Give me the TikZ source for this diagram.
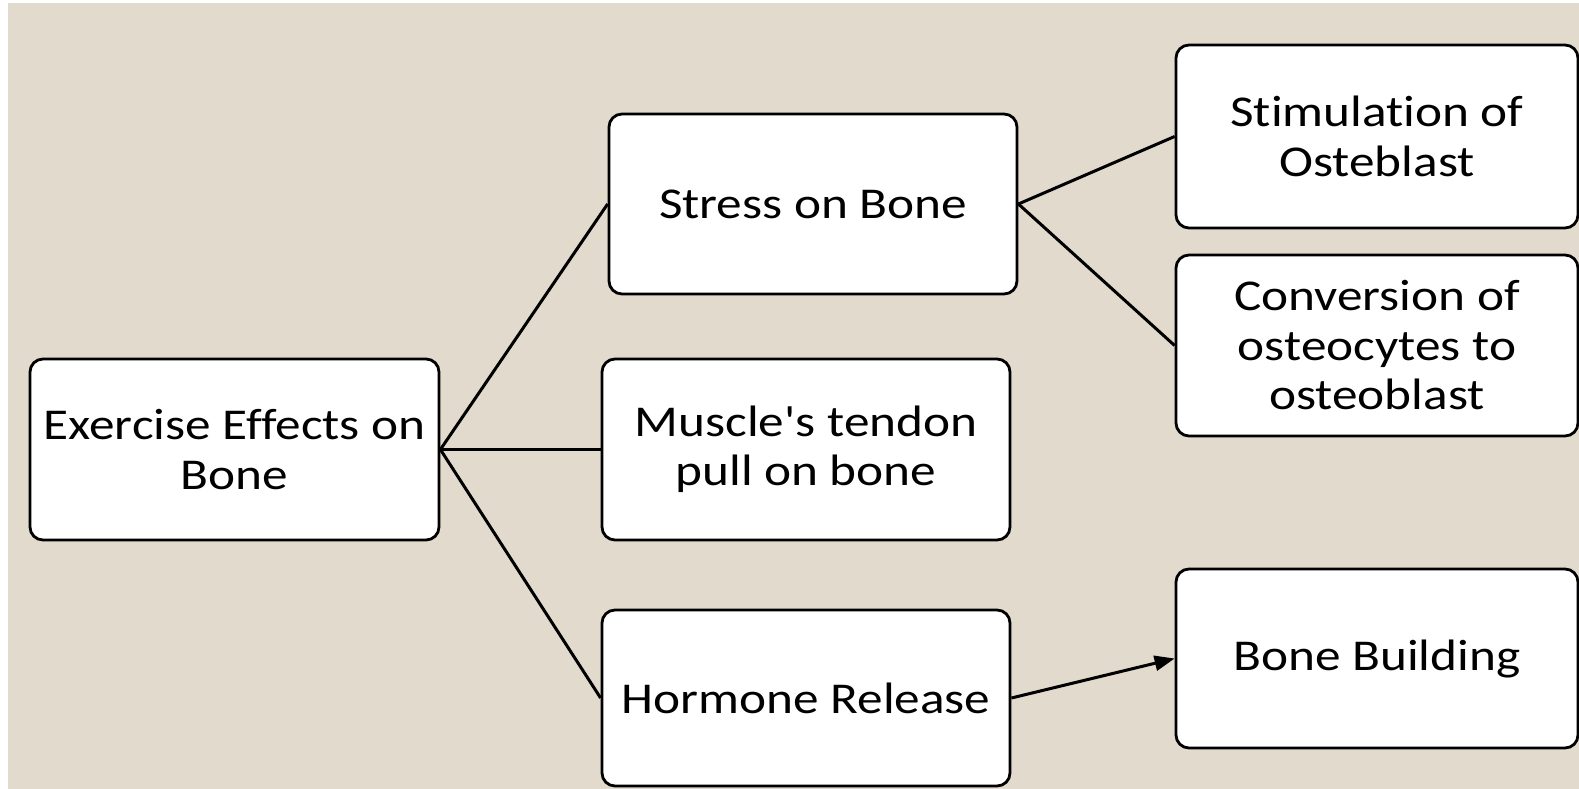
\documentclass[tikz,border=0pt]{standalone}
\usepackage{fontspec}
\newfontfamily\boxfont{Carlito}[FakeStretch=1.165, Ligatures=NoCommon]
\usetikzlibrary{arrows.meta}
\definecolor{paper}{RGB}{226,218,205}
\tikzset{
  box/.style={draw=black, line width=2.8pt, fill=white, rounded corners=13pt,
    align=center, inner sep=0pt, font=\boxfont\fontsize{44}{49.5}\selectfont, text=black},
  link/.style={draw=black, line width=3pt},
}
\begin{document}
\begin{tikzpicture}[x=1pt,y=-1pt]
\useasboundingbox (0,0) rectangle (1579,789);
\clip (0,0) rectangle (1579,789);
\fill[white] (0,0) rectangle (1579,789);
\fill[paper] (8,3) rectangle (1579,789);
\node[box, minimum width=409pt, minimum height=181pt] (ex) at (234.5,449.5) {Exercise Effects on\\Bone};
\node[box, minimum width=408pt, minimum height=180pt] (st) at (813,204) {Stress on Bone};
\node[box, minimum width=408pt, minimum height=181pt] (mu) at (806,449.5) {Muscle's tendon\\pull on bone};
\node[box, minimum width=408pt, minimum height=176pt] (ho) at (806,698) {Hormone Release};
\node[box, minimum width=402pt, minimum height=183pt] (si) at (1377,136.5) {Stimulation of\\Osteblast};
\node[box, minimum width=402pt, minimum height=181pt] (co) at (1377,345.5) {Conversion of\\osteocytes to\\osteoblast};
\node[box, minimum width=402pt, minimum height=179pt] (bb) at (1377,658.5) {Bone Building};
\draw[link] (ex.east) -- (st.west);
\draw[link] (ex.east) -- (mu.west);
\draw[link] (ex.east) -- (ho.west);
\draw[link] (st.east) -- (si.west);
\draw[link] (st.east) -- (co.west);
\draw[link, -{Triangle[length=20pt,width=15pt]}] (ho.east) -- (bb.west);
\end{tikzpicture}
\end{document}
